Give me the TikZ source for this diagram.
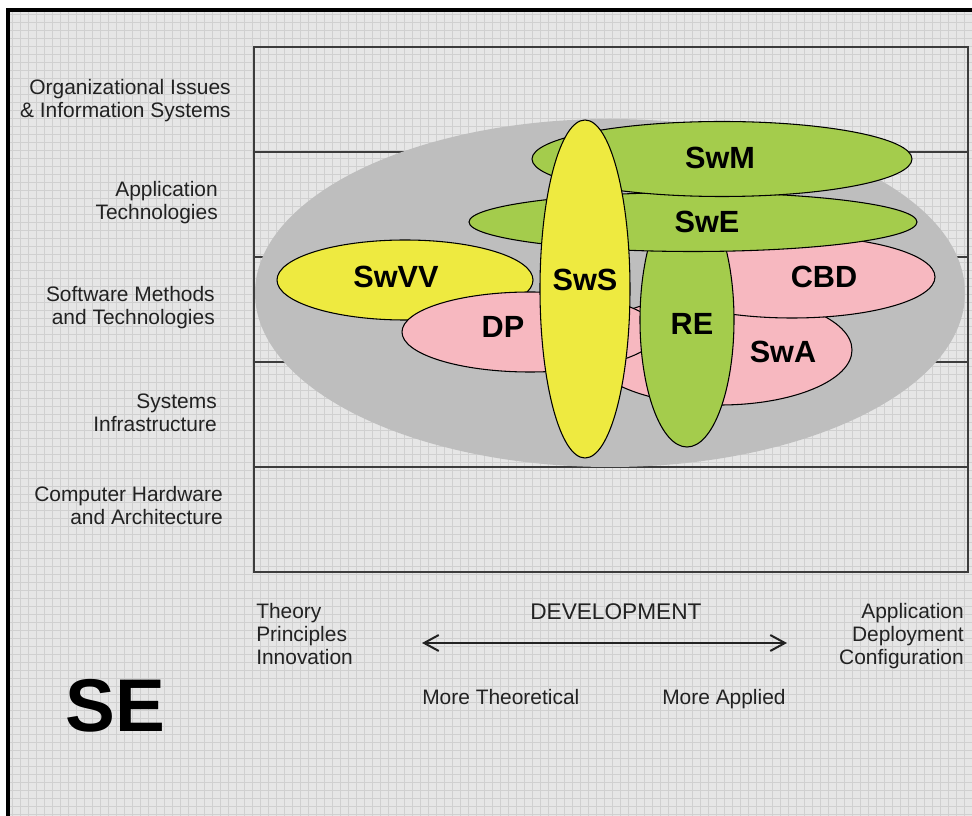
\documentclass[tikz,border=0pt]{standalone}
\usepackage{fontspec}
\setmainfont{Liberation Sans}
\usetikzlibrary{arrows.meta}
\definecolor{bgc}{RGB}{230,230,230}
\definecolor{gridc}{RGB}{208,208,208}
\definecolor{grayell}{RGB}{190,190,190}
\definecolor{yel}{RGB}{238,234,64}
\definecolor{grn}{RGB}{164,204,76}
\definecolor{pnk}{RGB}{247,184,192}
\definecolor{ink}{RGB}{34,34,34}
\definecolor{framec}{RGB}{60,60,60}
\tikzset{
  blob/.style={draw=black, line width=0.8pt},
  lbl/.style={font=\fontsize{23}{26}\selectfont\bfseries, inner sep=0pt, text=black},
  txt/.style={font=\fontsize{15.7}{17.6}\selectfont, inner sep=0pt, text=ink},
  rowlbl/.style={txt, align=right, anchor=base east},
  devarrow/.style={draw=ink, line width=1.5pt, {Straight Barb[length=11pt,width=12pt]}-{Straight Barb[length=11pt,width=12pt]}},
  bandline/.style={draw=framec, line width=1.2pt},
  gridline/.style={draw=gridc, line width=0.5pt}
}
\begin{document}
\begin{tikzpicture}[x=0.75pt,y=-0.75pt]
\useasboundingbox (0,0) rectangle (972,816);
\fill[white] (0,0) rectangle (972,816);
\fill[bgc] (8,10) rectangle (972,816);
\foreach \gx in {12,20,...,972} \draw[gridline] (\gx,10) -- (\gx,816);
\foreach \gy in {14,22,...,816} \draw[gridline] (8,\gy) -- (972,\gy);
\draw[black, line width=3pt] (8,10) -- (8,816);
\draw[black, line width=3pt] (6,10) -- (972,10);
% main frame and bands
\draw[bandline] (254,47) rectangle (968,572);
\foreach \yy in {152,257,362,467} \draw[bandline] (254,\yy) -- (968,\yy);
% gray area
\fill[grayell] (610,293) ellipse [x radius=355, y radius=174];
% ellipses
\filldraw[blob, fill=yel] (405,280) ellipse [x radius=128, y radius=40];
\filldraw[blob, fill=pnk] (720,350) ellipse [x radius=132, y radius=55];
\filldraw[blob, fill=pnk] (530,332) ellipse [x radius=128, y radius=40];
\filldraw[blob, fill=pnk] (792,277) ellipse [x radius=143, y radius=41];
\filldraw[blob, fill=grn] (687,320) ellipse [x radius=47, y radius=127];
\filldraw[blob, fill=grn] (693,222) ellipse [x radius=224, y radius=29.5];
\filldraw[blob, fill=grn] (722,159) ellipse [x radius=190, y radius=37.5];
\filldraw[blob, fill=yel] (585,289) ellipse [x radius=45, y radius=169];
% ellipse labels
\node[lbl] (swvv) at (396,277) {SwVV};
\node[lbl] (sws) at (585,280) {SwS};
\node[lbl] (swm) at (720,158) {SwM};
\node[lbl] (swe) at (707,222) {SwE};
\node[lbl] (cbd) at (824,277) {CBD};
\node[lbl] (dp) at (503,327) {DP};
\node[lbl] (re) at (692,324) {RE};
\node[lbl] (swa) at (783,352) {SwA};
% row labels (anchor = baseline of last line)
\node[rowlbl] (r1) at (231,118) {Organizational Issues\\\& Information Systems};
\node[rowlbl] (r2) at (218,220) {Application\\Technologies};
\node[rowlbl] (r3) at (215,325) {Software Methods\\and Technologies};
\node[rowlbl] (r4) at (217,432) {Systems\\Infrastructure};
\node[rowlbl] (r5) at (223,525) {Computer Hardware\\and Architecture};
% bottom
\node[txt, align=left, anchor=base west] (theory) at (256,665) {Theory\\Principles\\Innovation};
\node[txt, font=\fontsize{17}{20}\selectfont, anchor=base west] (dev) at (530,620) {DEVELOPMENT};
\node[txt, align=right, anchor=base east] (appl) at (964,665) {Application\\Deployment\\Configuration};
\node[txt, anchor=base west] (mt) at (422,704) {More Theoretical};
\node[txt, anchor=base west] (ma) at (662,704) {More Applied};
\coordinate (al) at (422,643);
\coordinate (ar) at (787,643);
\draw[devarrow] (al) -- (ar);
\node[inner sep=0pt, font=\fontsize{56}{60}\selectfont\bfseries] (se) at (115,706) {SE};
\end{tikzpicture}
\end{document}
